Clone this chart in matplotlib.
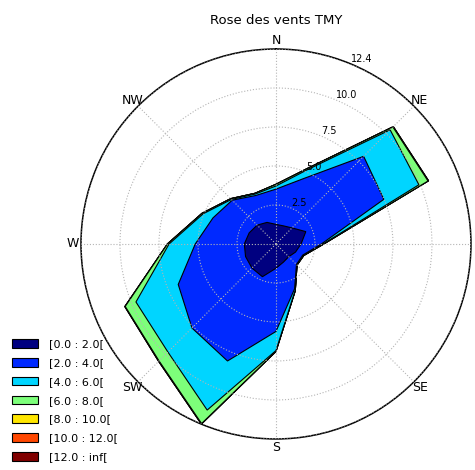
import numpy as np
import matplotlib
matplotlib.use("Agg")
import matplotlib.pyplot as plt
from matplotlib.patches import Patch

# ---- data ----
directions = ["N", "NNE", "NE", "ENE", "E", "ESE", "SE", "SSE",
              "S", "SSW", "SW", "WSW", "W", "WNW", "NW", "NNW"]
dir_deg = [0.0, 22.5, 45.0, 67.5, 90.0, 112.5, 135.0, 157.5,
           180.0, 202.5, 225.0, 247.5, 270.0, 292.5, 315.0, 337.5]
speed_edges = [0.0, 2.0, 4.0, 6.0, 8.0, 10.0, 12.0]

# frequency (%) per direction for each speed bin
freq_0_2 = [1.25, 1.25, 1.45, 2.06, 1.60, 1.35, 1.15, 1.25, 1.55, 2.26, 2.17, 2.10, 2.02, 1.85, 1.70, 1.49]
freq_2_4 = [2.25, 3.25, 6.46, 5.39, 1.30, 0.50, 0.70, 1.85, 4.03, 5.82, 5.41, 4.65, 3.13, 2.50, 2.25, 1.86]
freq_4_6 = [0.20, 0.60, 2.39, 2.42, 0.10, 0.05, 0.03, 0.10, 1.22, 3.39, 2.17, 2.92, 1.67, 0.68, 0.07, 0.10]
freq_6_8 = [0.10, 0.10, 0.25, 0.63, 0.05, 0.02, 0.02, 0.02, 0.05, 0.93, 0.80, 0.74, 0.10, 0.07, 0.06, 0.05]
freq_8_10 = [0.01, 0.01, 0.03, 0.03, 0.00, 0.00, 0.00, 0.00, 0.01, 0.03, 0.03, 0.02, 0.01, 0.01, 0.01, 0.00]
freq_10_12 = [0.00, 0.00, 0.01, 0.01, 0.00, 0.00, 0.00, 0.00, 0.00, 0.01, 0.01, 0.01, 0.00, 0.00, 0.00, 0.00]
freq_12_inf = [0.00, 0.00, 0.00, 0.00, 0.00, 0.00, 0.00, 0.00, 0.00, 0.00, 0.00, 0.00, 0.00, 0.00, 0.00, 0.00]

# compass labels drawn around the rose (E falls outside the visible frame)
compass_labels = ["N", "NE", "", "SE", "S", "SW", "W", "NW"]

table = np.array([freq_0_2, freq_2_4, freq_4_6, freq_6_8,
                  freq_8_10, freq_10_12, freq_12_inf])
cum = np.cumsum(table, axis=0)
rmax = cum[-1].max()

labels = []
for i, lo in enumerate(speed_edges):
    if i + 1 < len(speed_edges):
        labels.append("[%.1f : %.1f[" % (lo, speed_edges[i + 1]))
    else:
        labels.append("[%.1f : inf[" % lo)

# ---- figure ----
fig = plt.figure(figsize=(4.75, 4.70), dpi=100)
ax = fig.add_axes([0.1705, 0.066, 0.821, 0.8298], projection="polar")
ax.set_theta_zero_location("N")
ax.set_theta_direction(-1)

nb = table.shape[0]
colors = plt.cm.jet(np.linspace(0, 1, nb))
theta = np.deg2rad(dir_deg)
for i in range(nb):
    ax.fill(theta, cum[i], facecolor=colors[i], edgecolor="k",
            lw=0.8, zorder=1 + (nb - i) * 0.1)

ax.set_ylim(0, rmax)
radii = np.linspace(0, rmax, 6)[1:]
ax.set_rgrids(radii, labels=["%.1f" % r for r in radii], angle=22.5, fontsize=7)
ax.set_thetagrids(np.arange(0, 360, 45), labels=compass_labels, fontsize=9)
ax.tick_params(axis="x", pad=-4.5)
ax.set_axisbelow(False)
ax.grid(True, color="#b5b5b5", ls=":", lw=0.8)
ax.spines["polar"].set_linewidth(1.1)

fig.text(276 / 475, 1 - 20 / 470, "Rose des vents TMY", ha="center", va="center",
         fontsize=9.5)

handles = [Patch(facecolor=colors[i], edgecolor="k", lw=0.8) for i in range(nb)]
fig.legend(handles, labels, loc="upper left", bbox_to_anchor=(0.0246, 0.278),
           frameon=False, fontsize=8, handlelength=2.4, handleheight=0.8,
           labelspacing=0.78, handletextpad=1.0, borderaxespad=0, borderpad=0)

fig.savefig("out.png", dpi=100)
